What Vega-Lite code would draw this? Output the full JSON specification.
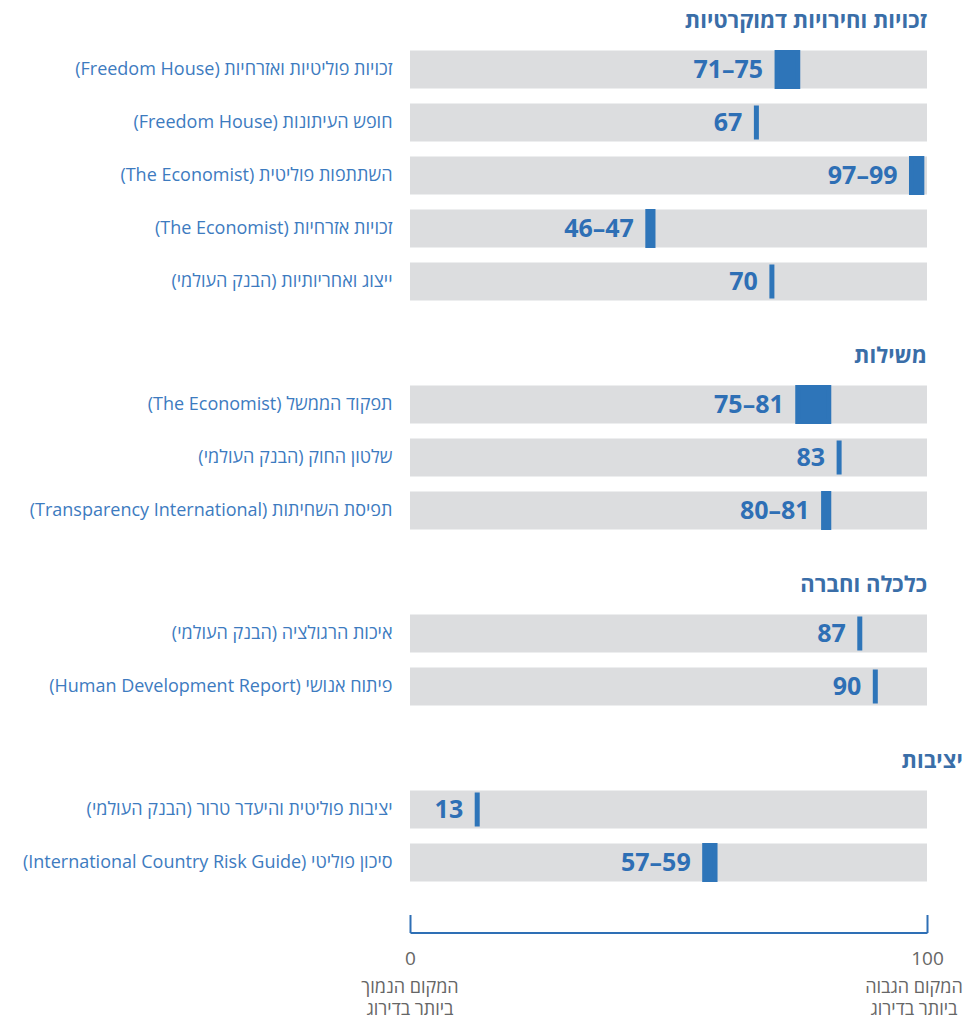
{
  "$schema": "https://vega.github.io/schema/vega-lite/v6.json",
  "background": "white",
  "padding": {"top": 10, "left": 5, "right": 5, "bottom": 0},
  "spacing": 37,
  "data": {"values": [
    {"section": "s1", "label": "‫זכויות פוליטיות ואזרחיות (Freedom House)‬", "low": 71, "high": 75, "value": "71–75"},
    {"section": "s1", "label": "‫חופש העיתונות (Freedom House)‬", "low": 67, "high": 67, "value": "67"},
    {"section": "s1", "label": "‫השתתפות פוליטית (The Economist)‬", "low": 97, "high": 99, "value": "97–99"},
    {"section": "s1", "label": "‫זכויות אזרחיות (The Economist)‬", "low": 46, "high": 47, "value": "46–47"},
    {"section": "s1", "label": "‫ייצוג ואחריותיות (הבנק העולמי)‬", "low": 70, "high": 70, "value": "70"},
    {"section": "s2", "label": "‫תפקוד הממשל (The Economist)‬", "low": 75, "high": 81, "value": "75–81"},
    {"section": "s2", "label": "‫שלטון החוק (הבנק העולמי)‬", "low": 83, "high": 83, "value": "83"},
    {"section": "s2", "label": "‫תפיסת השחיתות (Transparency International)‬", "low": 80, "high": 81, "value": "80–81"},
    {"section": "s3", "label": "‫איכות הרגולציה (הבנק העולמי)‬", "low": 87, "high": 87, "value": "87"},
    {"section": "s3", "label": "‫פיתוח אנושי (Human Development Report)‬", "low": 90, "high": 90, "value": "90"},
    {"section": "s4", "label": "‫יציבות פוליטית והיעדר טרור (הבנק העולמי)‬", "low": 13, "high": 13, "value": "13"},
    {"section": "s4", "label": "‫סיכון פוליטי (International Country Risk Guide)‬", "low": 57, "high": 59, "value": "57–59"}
  ]},
  "vconcat": [
    {
      "title": {"text": "זכויות וחירויות דמוקרטיות"},
      "transform": [{"filter": {"field": "section", "equal": "s1"}}],
      "width": 517, "height": {"step": 53},
      "encoding": {"y": {"field": "label", "type": "nominal", "sort": null, "title": null, "scale": {"paddingInner": 0.283, "paddingOuter": 0.1415}}},
      "layer": [
        {"mark": {"type": "bar", "color": "#dcdddf"}, "encoding": {"x": {"datum": 0, "type": "quantitative", "scale": {"domain": [0, 100]}, "axis": null}, "x2": {"datum": 100}}},
        {"mark": {"type": "bar", "color": "#2e75b9", "stroke": "#2e75b9", "strokeWidth": 5, "height": 34}, "encoding": {"x": {"field": "low", "type": "quantitative"}, "x2": {"field": "high"}}},
        {"mark": {"type": "text", "align": "right", "dx": -14, "fontSize": 25, "fontWeight": "bold", "color": "#2e6fb5", "font": "Open Sans"}, "encoding": {"x": {"field": "low", "type": "quantitative"}, "text": {"field": "value"}}}
      ]
    },
    {
      "title": {"text": "משילות"},
      "transform": [{"filter": {"field": "section", "equal": "s2"}}],
      "width": 517, "height": {"step": 53},
      "encoding": {"y": {"field": "label", "type": "nominal", "sort": null, "title": null, "scale": {"paddingInner": 0.283, "paddingOuter": 0.1415}}},
      "layer": [
        {"mark": {"type": "bar", "color": "#dcdddf"}, "encoding": {"x": {"datum": 0, "type": "quantitative", "scale": {"domain": [0, 100]}, "axis": null}, "x2": {"datum": 100}}},
        {"mark": {"type": "bar", "color": "#2e75b9", "stroke": "#2e75b9", "strokeWidth": 5, "height": 34}, "encoding": {"x": {"field": "low", "type": "quantitative"}, "x2": {"field": "high"}}},
        {"mark": {"type": "text", "align": "right", "dx": -14, "fontSize": 25, "fontWeight": "bold", "color": "#2e6fb5", "font": "Open Sans"}, "encoding": {"x": {"field": "low", "type": "quantitative"}, "text": {"field": "value"}}}
      ]
    },
    {
      "title": {"text": "כלכלה וחברה"},
      "transform": [{"filter": {"field": "section", "equal": "s3"}}],
      "width": 517, "height": {"step": 53},
      "encoding": {"y": {"field": "label", "type": "nominal", "sort": null, "title": null, "scale": {"paddingInner": 0.283, "paddingOuter": 0.1415}}},
      "layer": [
        {"mark": {"type": "bar", "color": "#dcdddf"}, "encoding": {"x": {"datum": 0, "type": "quantitative", "scale": {"domain": [0, 100]}, "axis": null}, "x2": {"datum": 100}}},
        {"mark": {"type": "bar", "color": "#2e75b9", "stroke": "#2e75b9", "strokeWidth": 5, "height": 34}, "encoding": {"x": {"field": "low", "type": "quantitative"}, "x2": {"field": "high"}}},
        {"mark": {"type": "text", "align": "right", "dx": -14, "fontSize": 25, "fontWeight": "bold", "color": "#2e6fb5", "font": "Open Sans"}, "encoding": {"x": {"field": "low", "type": "quantitative"}, "text": {"field": "value"}}}
      ]
    },
    {
      "title": {"text": "יציבות"},
      "width": 517, "height": {"step": 53},
      "layer": [
        {"transform": [{"filter": {"field": "section", "equal": "s4"}}],
         "mark": {"type": "bar", "color": "#dcdddf"},
         "encoding": {
           "y": {"field": "label", "type": "nominal", "sort": null, "title": null, "scale": {"paddingInner": 0.283, "paddingOuter": 0.1415}},
           "x": {"datum": 0, "type": "quantitative", "scale": {"domain": [0, 100]},
             "axis": {"values": [0, 100], "orient": "bottom", "offset": 43.5, "title": null, "grid": false, "domainColor": "#2e6fb5", "domainWidth": 2, "tickColor": "#2e6fb5", "tickWidth": 2, "tickSize": -18, "labelPadding": 35, "labelFontSize": 19, "labelColor": "#666666", "labelFont": "Open Sans", "labelFlush": false}},
           "x2": {"datum": 100}}},
        {"transform": [{"filter": {"field": "section", "equal": "s4"}}],
         "mark": {"type": "bar", "color": "#2e75b9", "stroke": "#2e75b9", "strokeWidth": 5, "height": 34},
         "encoding": {"y": {"field": "label", "type": "nominal", "sort": null}, "x": {"field": "low", "type": "quantitative"}, "x2": {"field": "high"}}},
        {"transform": [{"filter": {"field": "section", "equal": "s4"}}],
         "mark": {"type": "text", "align": "right", "dx": -14, "fontSize": 25, "fontWeight": "bold", "color": "#2e6fb5", "font": "Open Sans"},
         "encoding": {"y": {"field": "label", "type": "nominal", "sort": null}, "x": {"field": "low", "type": "quantitative"}, "text": {"field": "value"}}},
        {"data": {"values": [{"pos": 0, "caption": "המקום הנמוך\nביותר בדירוג"}]},
         "mark": {"type": "text", "align": "center", "baseline": "top", "dy": 143, "lineBreak": "\n", "lineHeight": 22, "fontSize": 18, "color": "#666666", "font": "Open Sans"},
         "encoding": {"x": {"field": "pos", "type": "quantitative"}, "text": {"field": "caption"}}},
        {"data": {"values": [{"pos": 100, "caption": "המקום הגבוה\nביותר בדירוג"}]},
         "mark": {"type": "text", "align": "center", "baseline": "top", "dy": 143, "dx": -13, "lineBreak": "\n", "lineHeight": 22, "fontSize": 18, "color": "#666666", "font": "Open Sans"},
         "encoding": {"x": {"field": "pos", "type": "quantitative"}, "text": {"field": "caption"}}}
      ]
    }
  ],
  "config": {
    "view": {"stroke": null},
    "title": {"anchor": "end", "fontSize": 22, "fontWeight": "bold", "color": "#3a6ea8", "font": "Open Sans", "offset": 10},
    "axisY": {"domain": false, "ticks": false, "grid": false, "labelFontSize": 18, "labelColor": "#3d7bbf", "labelFont": "Open Sans", "labelPadding": 18, "minExtent": 405, "maxExtent": 405, "labelLimit": 0}
  }
}
